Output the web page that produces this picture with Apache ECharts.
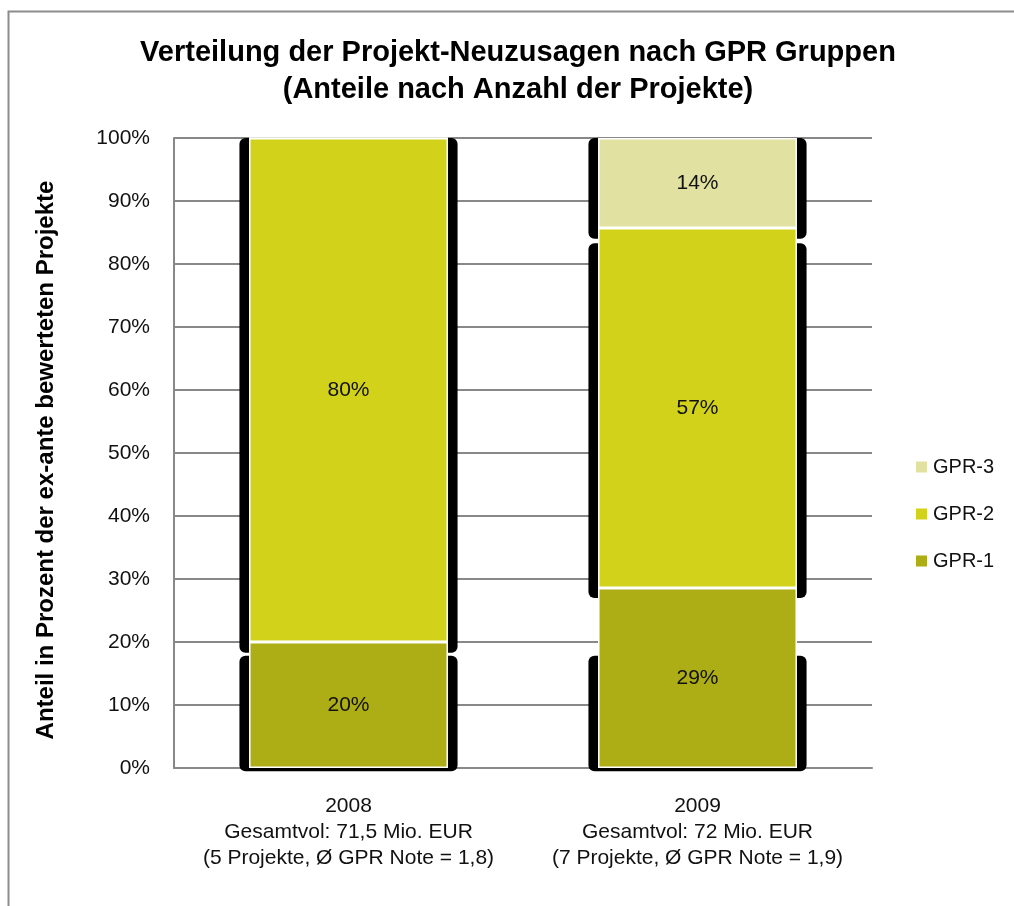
<!DOCTYPE html>
<html>
<head>
<meta charset="utf-8">
<script src="https://cdn.jsdelivr.net/npm/echarts@6/dist/echarts.min.js"></script>
<style>
  html, body { margin: 0; padding: 0; background: #fff; }
  #chart { width: 1014px; height: 906px; }
</style>
</head>
<body>
<div id="chart"></div>
<script>
// Jahre und Achsenbeschriftungen
const years = ['2008', '2009'];
const yearNotes = [
  'Gesamtvol: 71,5 Mio. EUR\n(5 Projekte, Ø GPR Note = 1,8)',
  'Gesamtvol: 72 Mio. EUR\n(7 Projekte, Ø GPR Note = 1,9)'
];
const yTicks = [0, 10, 20, 30, 40, 50, 60, 70, 80, 90, 100];

// Anteile in Prozent je GPR Gruppe
const gpr1 = [20, 28.57];
const gpr2 = [80, 57.14];
const gpr3 = [0, 14.29];

// schwarze Rahmen hinter den Balken: [Jahr-Index, von %, bis %]
const frames = [
  [0, -0.5, 17.8],
  [0, 18.3, 100],
  [1, -0.5, 17.8],
  [1, 27.0, 83.3],
  [1, 84.0, 100]
];

const colors = { 'GPR-1': '#adad15', 'GPR-2': '#d2d21a', 'GPR-3': '#e1e1a1' };
const font = 'Liberation Sans, Arial, sans-serif';

const chart = echarts.init(document.getElementById('chart'));

const labelFmt = p => (p.value > 0 ? Math.round(p.value) + '%' : '');

const barSeries = (name, data) => ({
  type: 'bar',
  name,
  stack: 'total',
  data,
  barWidth: '57%',
  z: 3,
  itemStyle: { color: colors[name], borderColor: '#fff', borderWidth: 1.5 },
  label: {
    show: true,
    position: 'inside',
    formatter: labelFmt,
    color: '#111',
    fontSize: 21,
    fontFamily: font
  }
});

const option = {
  animation: false,
  backgroundColor: '#fff',
  title: {
    text: 'Verteilung der Projekt-Neuzusagen nach GPR Gruppen\n(Anteile nach Anzahl der Projekte)',
    left: 513,
    textAlign: 'center',
    top: 29,
    textStyle: { fontSize: 29, fontWeight: 'bold', lineHeight: 37, color: '#000', fontFamily: font }
  },
  legend: {
    orient: 'vertical',
    left: 909,
    top: 451,
    itemWidth: 13,
    itemHeight: 13,
    itemGap: 25,
    icon: 'rect',
    data: ['GPR-3', 'GPR-2', 'GPR-1'],
    textStyle: { fontSize: 20, lineHeight: 22, color: '#111', fontFamily: font }
  },
  graphic: [{
    type: 'rect',
    left: 6,
    top: 9,
    shape: { width: 1030, height: 920 },
    style: { fill: 'none', stroke: '#8c8c8c', lineWidth: 2 },
    silent: true
  }],
  grid: { left: 174, right: 142, top: 138, bottom: 138 },
  xAxis: {
    type: 'category',
    data: years,
    axisLine: { lineStyle: { color: '#888', width: 2 } },
    axisTick: { show: false },
    axisLabel: {
      interval: 0,
      hideOverlap: false,
      formatter: (v, i) => v + '\n' + yearNotes[i],
      fontSize: 21,
      lineHeight: 26,
      margin: 25,
      color: '#111',
      fontFamily: font
    }
  },
  yAxis: {
    type: 'value',
    min: 0,
    max: 100,
    interval: 10,
    name: 'Anteil in Prozent der ex-ante bewerteten Projekte',
    nameLocation: 'middle',
    nameGap: 116,
    nameTextStyle: { fontSize: 24, fontWeight: 'bold', color: '#000', fontFamily: font, padding: [0, 14, 0, 0] },
    axisLine: { show: true, lineStyle: { color: '#888', width: 2 } },
    axisTick: { show: false },
    splitLine: { lineStyle: { color: '#888', width: 2 } },
    axisLabel: {
      formatter: v => (yTicks.includes(v) ? v + '%' : ''),
      fontSize: 21,
      margin: 24,
      color: '#111',
      fontFamily: font
    }
  },
  series: [
    {
      type: 'custom',
      name: 'frames',
      z: 1,
      clip: false,
      silent: true,
      data: frames,
      renderItem: (params, api) => {
        const lo = api.coord([api.value(0), api.value(1)]);
        const hi = api.coord([api.value(0), api.value(2)]);
        const w = api.size([1, 0])[0] * 0.625;
        return {
          type: 'rect',
          shape: { x: lo[0] - w / 2, y: hi[1], width: w, height: lo[1] - hi[1], r: 6 },
          style: { fill: '#000' }
        };
      }
    },
    barSeries('GPR-1', gpr1),
    barSeries('GPR-2', gpr2),
    barSeries('GPR-3', gpr3)
  ]
};

chart.setOption(option);
</script>
</body>
</html>
